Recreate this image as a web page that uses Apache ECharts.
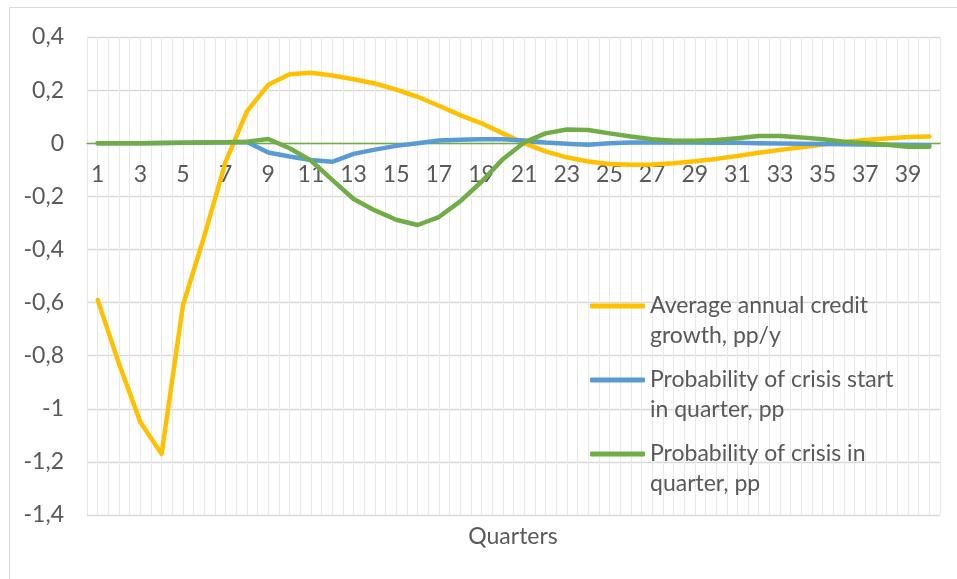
<!DOCTYPE html>
<html>
<head>
<meta charset="utf-8">
<script src="https://cdn.jsdelivr.net/npm/echarts@6/dist/echarts.min.js"></script>
<style>
  html, body { margin: 0; padding: 0; background: #fff; }
  #chart { width: 957px; height: 579px; }
</style>
</head>
<body>
<div id="chart"></div>
<script>
// quarters 1..40
var quarters = [];
for (var q = 1; q <= 40; q++) quarters.push(String(q));

var seriesNames = [
  'Average annual credit growth, pp/y',
  'Probability of crisis start in quarter, pp',
  'Probability of crisis in quarter, pp'
];

var creditGrowth = [
  -0.59, -0.83, -1.05, -1.17, -0.61, -0.35, -0.07, 0.12, 0.22, 0.26,
  0.265, 0.255, 0.241, 0.225, 0.202, 0.175, 0.141, 0.106, 0.075, 0.037,
  0.0, -0.031, -0.053, -0.069, -0.078, -0.081, -0.08, -0.075, -0.068, -0.059,
  -0.048, -0.036, -0.025, -0.015, -0.005, 0.005, 0.012, 0.018, 0.023, 0.025
];

var crisisStart = [
  0, 0, 0, 0.001, 0.002, 0.003, 0.004, 0.005, -0.035, -0.05,
  -0.063, -0.07, -0.04, -0.024, -0.01, 0.0, 0.01, 0.013, 0.015, 0.015,
  0.01, 0.003, -0.002, -0.006, 0.0, 0.003, 0.003, 0.003, 0.003, 0.002,
  0.002, 0.0, -0.001, -0.002, -0.003, -0.004, -0.005, -0.006, -0.007, -0.008
];

var crisisProb = [
  0, 0, 0, 0.001, 0.002, 0.003, 0.004, 0.006, 0.016, -0.019,
  -0.065, -0.138, -0.21, -0.253, -0.288, -0.308, -0.278, -0.219, -0.145, -0.06,
  0.003, 0.037, 0.052, 0.05, 0.037, 0.025, 0.015, 0.009, 0.009, 0.012,
  0.019, 0.027, 0.027, 0.022, 0.015, 0.006, 0.0, -0.006, -0.013, -0.013
];

// half-quarter slots, only used for the light vertical grid
var gridSlots = [];
for (var s = 0; s < 80; s++) gridSlots.push(s);

var legendText = {
  'Average annual credit growth, pp/y': '\nAverage annual credit\ngrowth, pp/y',
  'Probability of crisis start in quarter, pp': '\nProbability of crisis start\nin quarter, pp',
  'Probability of crisis in quarter, pp': '\nProbability of crisis in\nquarter, pp'
};

var yMin = -1.4, yMax = 0.4;
var gridTop = 37, gridBottom = 64, chartH = 579;
// category axis sits on the zero line (as in Excel): shift it up from the grid bottom
var plotH = chartH - gridTop - gridBottom;
var zeroShift = -plotH * (0 - yMin) / (yMax - yMin);

var font = 'Lato, "Open Sans", sans-serif';
var chart = echarts.init(document.getElementById('chart'));

function lineSeries(name, data, color) {
  return {
    name: name,
    type: 'line',
    xAxisIndex: 0,
    data: data,
    symbol: 'none',
    smooth: false,
    lineStyle: { color: color, width: 4.5, cap: 'round', join: 'round' },
    itemStyle: { color: color }
  };
}

chart.setOption({
  animation: false,
  backgroundColor: '#fff',
  textStyle: { fontFamily: font },
  grid: { left: 87, right: 17, top: gridTop, bottom: gridBottom },
  graphic: [{
    type: 'rect',
    shape: { x: 9.5, y: 7.5, width: 980, height: 620 },
    style: { fill: 'none', stroke: '#d9d9d9', lineWidth: 1 },
    silent: true
  }, {
    type: 'text',
    x: 513, y: 537,
    style: {
      text: 'Quarters', fontFamily: font, fontSize: 23, fill: '#595959',
      textAlign: 'center', textVerticalAlign: 'middle'
    }
  }],
  legend: {
    orient: 'vertical',
    left: 590,
    top: 261,
    padding: 0,
    icon: 'roundRect',
    itemWidth: 55,
    itemHeight: 5,
    itemGap: -16,
    data: seriesNames,
    formatter: function (name) { return legendText[name]; },
    textStyle: { fontFamily: font, fontSize: 23, color: '#595959', lineHeight: 30 }
  },
  xAxis: [{
    type: 'category',
    data: quarters,
    boundaryGap: true,
    position: 'bottom',
    offset: zeroShift,
    axisLine: { onZero: false, lineStyle: { color: '#70AD47', width: 1.3 } },
    axisTick: { show: false },
    axisLabel: { interval: 1, margin: 20, fontSize: 23, color: '#595959', fontFamily: font },
    splitLine: { show: false }
  }, {
    type: 'category',
    data: gridSlots,
    boundaryGap: true,
    position: 'top',
    axisLine: { show: false, onZero: false },
    axisTick: { show: false },
    axisLabel: { show: false },
    splitLine: { show: true, interval: 0, lineStyle: { color: '#e9e9e9', width: 1 } }
  }],
  yAxis: {
    type: 'value',
    min: yMin,
    max: yMax,
    interval: 0.2,
    axisLine: { show: false },
    axisTick: { show: false },
    axisLabel: {
      margin: 23, fontSize: 23, color: '#595959', fontFamily: font,
      formatter: function (v) { return String(Math.round(v * 10) / 10).replace('.', ','); }
    },
    splitLine: { lineStyle: { color: '#d9d9d9', width: 1.3 } }
  },
  series: [
    lineSeries(seriesNames[0], creditGrowth, '#FFC000'),
    lineSeries(seriesNames[1], crisisStart, '#5B9BD5'),
    lineSeries(seriesNames[2], crisisProb, '#70AD47')
  ]
});
</script>
</body>
</html>
